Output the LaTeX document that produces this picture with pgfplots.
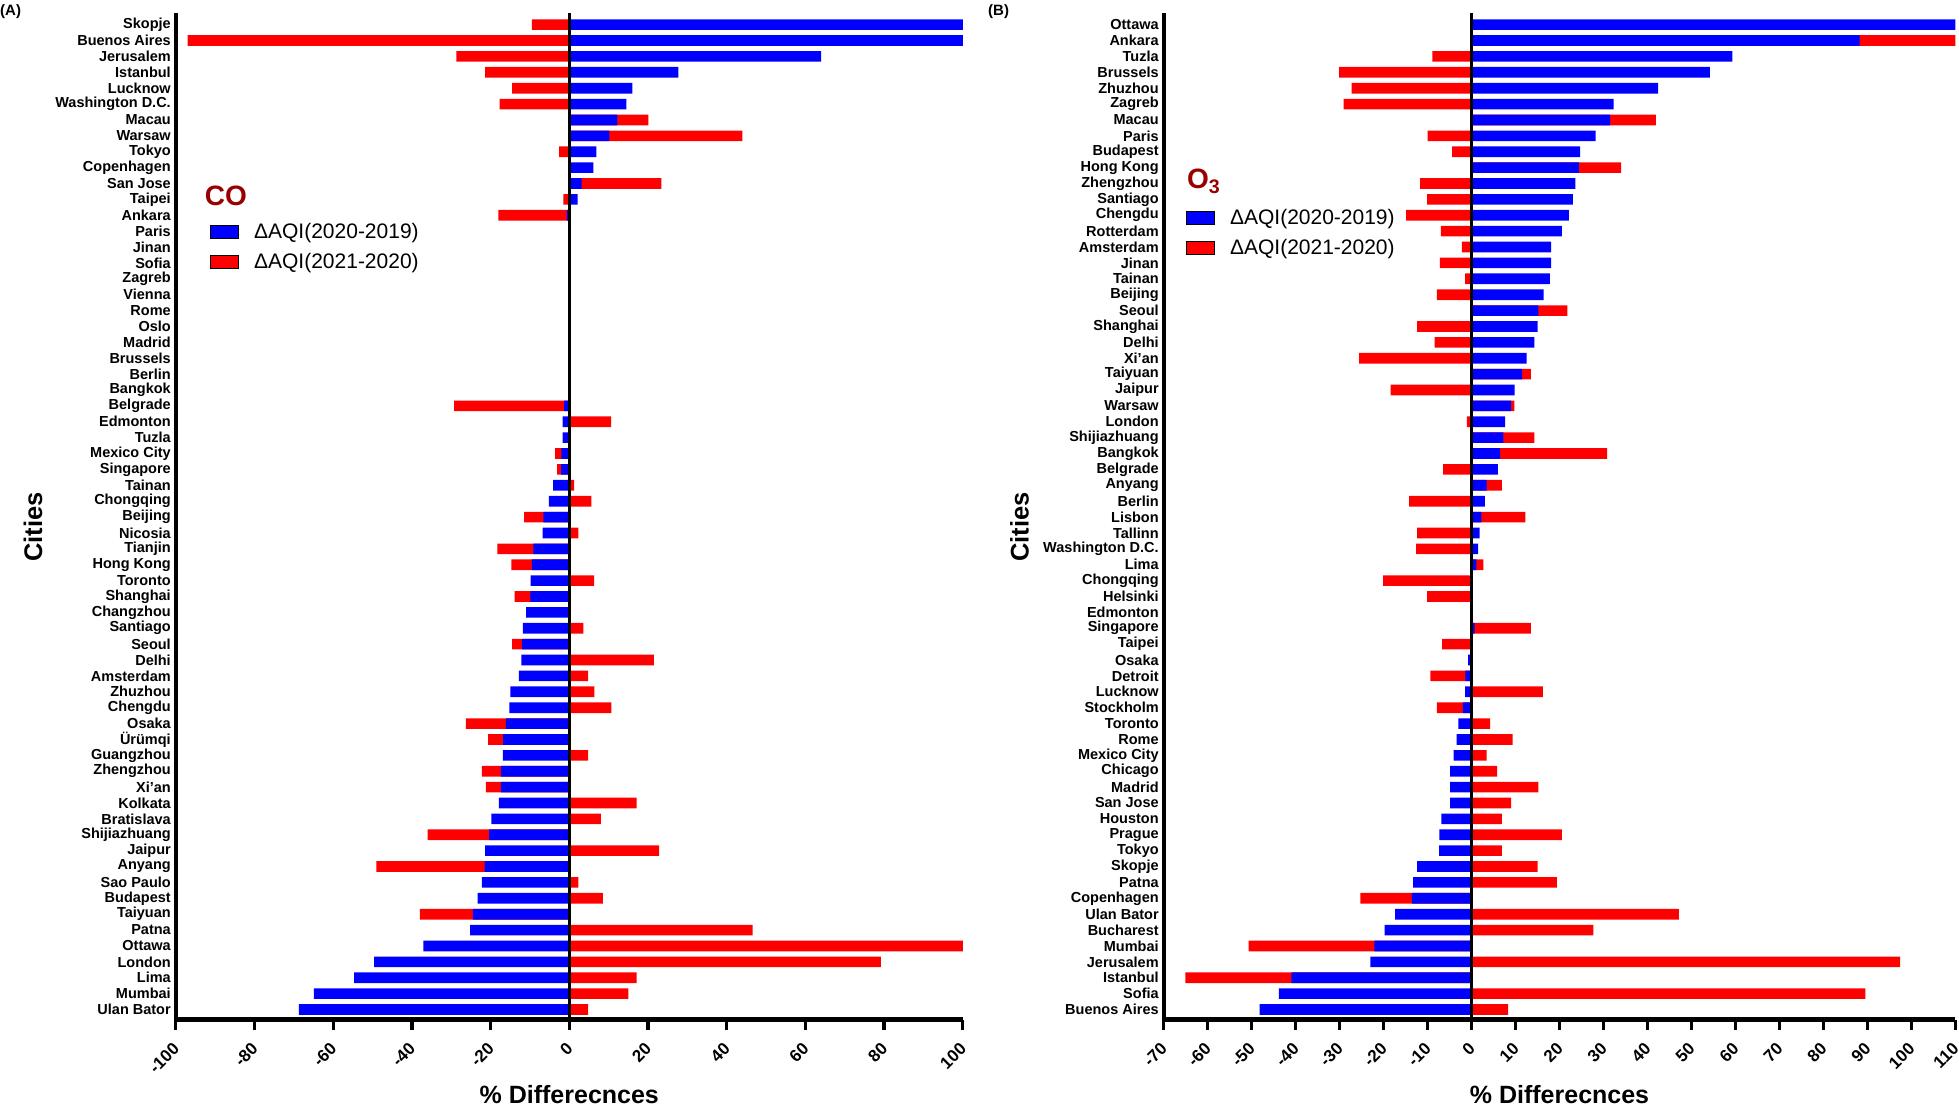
\documentclass[border=0pt]{standalone}
\usepackage{fontspec}
\setmainfont{Liberation Sans}
\usepackage{pgfplots}
\usepackage{pgfplotstable}
\pgfplotsset{compat=1.18}
\definecolor{barblue}{RGB}{0,0,255}
\definecolor{barred}{RGB}{255,0,0}
\definecolor{titlered}{RGB}{153,0,0}

% y = row (0 = bottom), blue = dAQI(2020-2019), red = end of the red bar
\pgfplotstableread{
y blue red
0 -68.7 4.8
1 -64.9 15
2 -54.7 17.1
3 -49.6 79.2
4 -37.1 100
5 -25.2 46.6
6 -24.5 -38
7 -23.3 8.5
8 -22.2 2.3
9 -21.5 -49
10 -21.4 22.8
11 -20.4 -36
12 -19.8 8
13 -17.9 17.1
14 -17.4 -21.2
15 -17.4 -22.2
16 -16.9 4.8
17 -16.8 -20.6
18 -16.1 -26.3
19 -15.2 10.7
20 -15 6.4
21 -12.8 4.8
22 -12.2 21.5
23 -12 -14.5
24 -11.8 3.6
25 -11 0
26 -9.9 -13.9
27 -9.8 6.3
28 -9.5 -14.7
29 -9.1 -18.3
30 -6.8 2.3
31 -6.6 -11.5
32 -5.2 5.6
33 -4.1 1.2
34 -2.1 -3.1
35 -2 -3.6
36 -1.7 0
37 -1.7 10.6
38 -1.3 -29.3
50 -0.6 -18
51 2.1 -1.5
52 3.1 23.4
53 6.1 0
54 6.9 -2.6
55 10.2 44
56 12.2 20.1
57 14.5 -17.7
58 16 -14.5
59 27.7 -21.4
60 64 -28.7
61 100 -97
62 100 -9.5
}\dataA

\pgfplotstableread{
y blue red
0 -48.2 8.3
1 -43.8 89.5
2 -41 -65.1
3 -23 97.4
4 -22.1 -50.7
5 -19.8 27.7
6 -17.4 47.1
7 -13.6 -25.3
8 -13.3 19.4
9 -12.4 15
10 -7.4 6.9
11 -7.3 20.5
12 -6.9 6.9
13 -4.9 9
14 -4.9 15.2
15 -4.9 5.8
16 -4.1 3.4
17 -3.4 9.3
18 -3 4.2
19 -2 -7.9
20 -1.5 16.2
21 -1.4 -9.4
22 -0.8 0
23 0 -6.7
24 0.7 13.5
26 0 -10.1
27 0.2 -20.1
28 1.1 2.7
29 1.5 -12.6
30 1.8 -12.4
31 2.2 12.2
32 3 -14.2
33 3.4 6.9
34 6 -6.5
35 6.5 30.8
36 7.2 14.3
37 7.6 -1.1
38 9 9.7
39 9.8 -18.4
40 11.5 13.5
41 12.5 -25.6
42 14.3 -8.4
43 15 -12.4
44 15.2 21.8
45 16.4 -7.9
46 17.8 -1.5
47 18.1 -7.2
48 18.1 -2.2
49 20.5 -7
50 22.1 -14.9
51 23 -10.1
52 23.6 -11.7
53 24.4 34
54 24.7 -4.4
55 28.2 -10
56 31.5 41.9
57 32.3 -29.1
58 42.4 -27.3
59 54.2 -30.1
60 59.3 -8.9
61 88.2 110
62 110 0
}\dataB

\pgfplotsset{
  panel/.style={
    scale only axis, anchor=south west,
    height=1006.8pt,
    ymin=-0.63, ymax=62.755,
    axis lines*=left,
    axis line style={line width=4.4pt, -},
    ytick={0,...,62},
    tick align=outside,
    major tick length=10.5pt,
    xtick style={line width=3.3pt, black},
    ytick style={draw=none},
    yticklabel style={font=\fontsize{14.5}{16}\selectfont\bfseries, inner ysep=0pt, xshift=9pt},
    xticklabel style={font=\fontsize{17}{19}\selectfont\bfseries, xshift=-4pt, yshift=-11.5pt, rotate=45, anchor=north east, inner sep=0pt},
    /pgf/number format/assume math mode=true,
    xlabel={\% Differecnces},
    ylabel={Cities},
    xlabel style={font=\fontsize{25}{28}\selectfont\bfseries, at={(axis description cs:0.5,-0.0839)}, anchor=base},
    ylabel style={font=\fontsize{25.5}{28}\selectfont\bfseries, anchor=center},
    legend image code/.code={\fill[##1] (0pt,-6.5pt) rectangle (28pt,6.5pt);},
    legend cell align=left,
    legend style={draw=none, fill=none, inner sep=0pt, row sep=10.5pt, column sep=15.5pt,
      font=\fontsize{21}{24}\selectfont,
      nodes={inner sep=0pt, text height=17pt, text depth=3pt}, anchor=north west},
  },
  redbar/.style={xbar, bar width=0.67, bar shift=0pt, fill=barred, draw=none, forget plot},
  bluebar/.style={xbar, bar width=0.67, bar shift=0pt, fill=barblue, draw=none, forget plot},
}

\begin{document}
\begin{tikzpicture}[x=1pt,y=1pt]
\useasboundingbox (0,-1110) rectangle (1959,0);

\begin{axis}[panel,
  at={(175.8pt,-1019.5pt)}, width=787pt,
  xmin=-100, xmax=100, xtick={-100,-80,...,100},
  ylabel style={at={(axis description cs:-0.1814,0.489)}},
  yticklabels={Ulan Bator, Mumbai, Lima, London, Ottawa, Patna, Taiyuan, Budapest, Sao Paulo, Anyang, Jaipur, Shijiazhuang, Bratislava, Kolkata, Xi'an, Zhengzhou, Guangzhou, Ürümqi, Osaka, Chengdu, Zhuzhou, Amsterdam, Delhi, Seoul, Santiago, Changzhou, Shanghai, Toronto, Hong Kong, Tianjin, Nicosia, Beijing, Chongqing, Tainan, Singapore, Mexico City, Tuzla, Edmonton, Belgrade, Bangkok, Berlin, Brussels, Madrid, Oslo, Rome, Vienna, Zagreb, Sofia, Jinan, Paris, Ankara, Taipei, San Jose, Copenhagen, Tokyo, Warsaw, Macau, Washington D.C., Lucknow, Istanbul, Jerusalem, Buenos Aires, Skopje},
  legend style={at={(axis cs:-91.31,49.63)}},
]
\addplot[redbar] table[x=red, y=y] {\dataA};
\addplot[bluebar] table[x=blue, y=y] {\dataA};
\draw[line width=3pt] (axis cs:0,-0.63) -- (axis cs:0,62.755);
\addlegendimage{fill=barblue}
\addlegendentry{ΔAQI(2020-2019)}
\addlegendimage{fill=barred}
\addlegendentry{ΔAQI(2021-2020)}
\end{axis}

\begin{axis}[panel,
  at={(1163.7pt,-1019.5pt)}, width=791.7pt,
  xmin=-70, xmax=110, xtick={-70,-60,...,110},
  ylabel style={at={(axis description cs:-0.1821,0.489)}},
  yticklabels={Buenos Aires, Sofia, Istanbul, Jerusalem, Mumbai, Bucharest, Ulan Bator, Copenhagen, Patna, Skopje, Tokyo, Prague, Houston, San Jose, Madrid, Chicago, Mexico City, Rome, Toronto, Stockholm, Lucknow, Detroit, Osaka, Taipei, Singapore, Edmonton, Helsinki, Chongqing, Lima, Washington D.C., Tallinn, Lisbon, Berlin, Anyang, Belgrade, Bangkok, Shijiazhuang, London, Warsaw, Jaipur, Taiyuan, Xi'an, Delhi, Shanghai, Seoul, Beijing, Tainan, Jinan, Amsterdam, Rotterdam, Chengdu, Santiago, Zhengzhou, Hong Kong, Budapest, Paris, Macau, Zagreb, Zhuzhou, Brussels, Tuzla, Ankara, Ottawa},
  legend style={at={(axis cs:-64.94,50.51)}},
]
\addplot[redbar] table[x=red, y=y] {\dataB};
\addplot[bluebar] table[x=blue, y=y] {\dataB};
\draw[line width=3pt] (axis cs:0,-0.63) -- (axis cs:0,62.755);
\addlegendimage{fill=barblue}
\addlegendentry{ΔAQI(2020-2019)}
\addlegendimage{fill=barred}
\addlegendentry{ΔAQI(2021-2020)}
\end{axis}

\node[anchor=base west, inner sep=0pt, text=titlered, font=\fontsize{28}{30}\selectfont\bfseries] at (204.6,-205) {CO};
\node[anchor=base west, inner sep=0pt, text=titlered, font=\fontsize{28}{30}\selectfont\bfseries] at (1187,-188.3) {O\textsubscript{3}};
\node[anchor=north west, inner sep=0pt, font=\fontsize{15}{17}\selectfont\bfseries] at (0,-4) {(A)};
\node[anchor=north west, inner sep=0pt, font=\fontsize{15}{17}\selectfont\bfseries] at (988,-4) {(B)};
\end{tikzpicture}
\end{document}
